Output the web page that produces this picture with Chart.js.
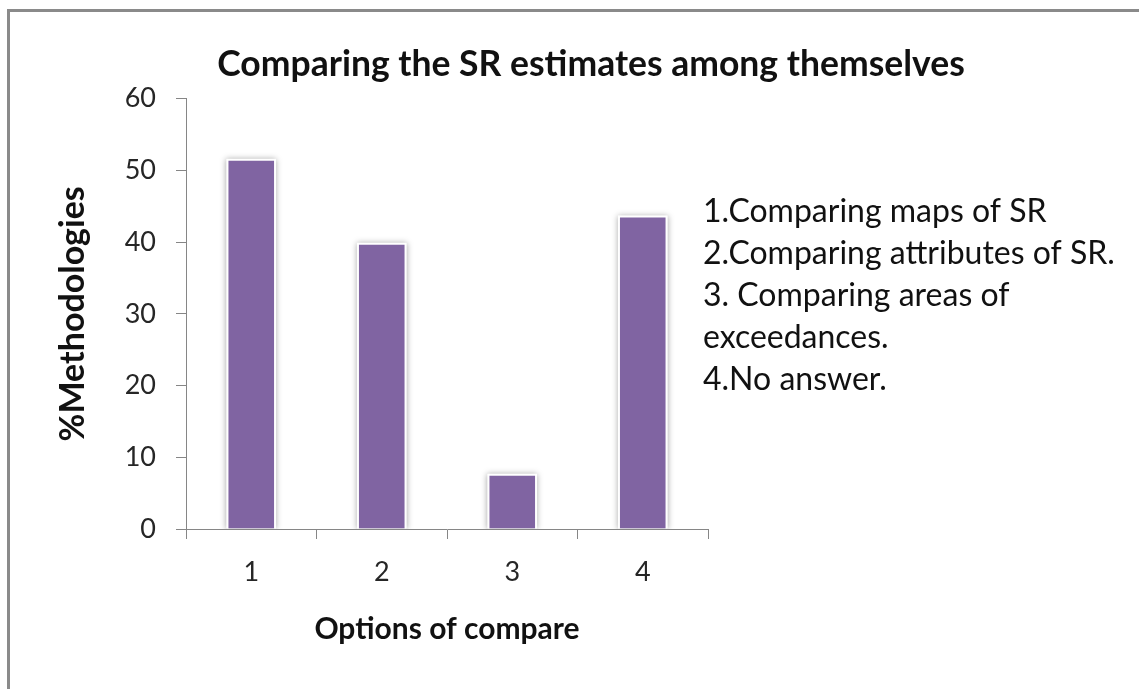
<!DOCTYPE html>
<html>
<head>
<meta charset="utf-8">
<title>Comparing the SR estimates among themselves</title>
<script src="https://cdn.jsdelivr.net/npm/chart.js@4.4.1/dist/chart.umd.min.js"></script>
<style>
  html, body { margin: 0; padding: 0; background: #fff; }
  #wrap { position: relative; width: 1139px; height: 689px; overflow: hidden; }
  #frame {
    position: absolute; left: 7px; top: 9px; width: 1300px; height: 900px;
    border-left: 3px solid #8a8a8a; border-top: 3px solid #8a8a8a;
    pointer-events: none;
  }
  canvas { position: absolute; left: 0; top: 0; }
</style>
</head>
<body>
<div id="wrap">
  <canvas id="srChart" width="1139" height="689"></canvas>
  <div id="frame"></div>
</div>
<script>
// data
const categories = ['1', '2', '3', '4'];
const percentMethodologies = [51.6, 39.9, 7.7, 43.7];
const yTicks = [0, 10, 20, 30, 40, 50, 60];
const noteLines = [
  '1.Comparing maps of SR',
  '2.Comparing attributes of SR.',
  '3. Comparing areas of',
  'exceedances.',
  '4.No answer.'
];

const barColor = '#8064a2';
const axisGray = '#868686';
const textDark = '#111111';

Chart.defaults.font.family = 'Lato';

// soft grey shadow behind the bars (Excel style)
const barShadow = {
  id: 'barShadow',
  beforeDatasetsDraw(chart) {
    const ctx = chart.ctx;
    const area = chart.chartArea;
    const meta = chart.getDatasetMeta(0);
    ctx.save();
    ctx.beginPath();
    ctx.rect(area.left, area.top - 20, area.right - area.left, area.bottom - area.top + 20);
    ctx.clip();
    ctx.shadowColor = 'rgba(0,0,0,0.35)';
    ctx.shadowBlur = 6;
    ctx.fillStyle = '#ffffff';
    meta.data.forEach(bar => {
      const p = bar.getProps(['x', 'y', 'base', 'width'], true);
      ctx.fillRect(p.x - p.width / 2, p.y, p.width, p.base - p.y);
    });
    ctx.restore();
  }
};

// the text block to the right of the plot
const sideNotes = {
  id: 'sideNotes',
  afterDraw(chart) {
    const ctx = chart.ctx;
    ctx.save();
    ctx.font = '32px Lato';
    ctx.fillStyle = textDark;
    ctx.textAlign = 'left';
    ctx.textBaseline = 'alphabetic';
    noteLines.forEach((line, i) => ctx.fillText(line, 703, 222 + i * 42));
    ctx.restore();
  }
};

const ctx = document.getElementById('srChart').getContext('2d');
new Chart(ctx, {
  type: 'bar',
  data: {
    labels: categories,
    datasets: [{
      label: '%Methodologies',
      data: percentMethodologies,
      backgroundColor: barColor,
      borderColor: '#ffffff',
      borderWidth: 2,
      barPercentage: 0.38,
      categoryPercentage: 1
    }]
  },
  options: {
    responsive: false,
    animation: false,
    layout: { padding: { left: 43, right: 0, top: 0, bottom: 0 } },
    plugins: {
      legend: { display: false },
      tooltip: { enabled: false },
      title: {
        display: true,
        text: 'Comparing the SR estimates among themselves',
        font: { size: 35.5, weight: 'bold' },
        color: textDark,
        padding: { top: 43, bottom: 13 }
      }
    },
    scales: {
      x: {
        grid: {
          display: true, drawOnChartArea: false, drawTicks: true,
          tickLength: 10, color: axisGray, offset: true
        },
        border: { display: true, color: axisGray, width: 1 },
        ticks: { font: { size: 27 }, color: '#262626', padding: 17 },
        title: {
          display: true,
          text: 'Options of compare',
          font: { size: 30, weight: 'bold' },
          color: textDark,
          padding: { top: 0, bottom: 42 }
        },
        afterFit(scale) { scale.height = 160; }
      },
      y: {
        min: yTicks[0],
        max: yTicks[yTicks.length - 1],
        grid: {
          display: true, drawOnChartArea: false, drawTicks: true,
          tickLength: 10, color: axisGray
        },
        border: { display: true, color: axisGray, width: 1 },
        ticks: { stepSize: yTicks[1] - yTicks[0], font: { size: 27 }, color: '#262626', padding: 20 },
        title: {
          display: true,
          text: '%Methodologies',
          font: { size: 34, weight: 'bold' },
          color: textDark,
          padding: { top: 10, bottom: 0 }
        },
        afterFit(scale) { scale.width = 143; }
      },
      yRight: {
        position: 'right',
        display: true,
        grid: { display: false },
        border: { display: false },
        ticks: { display: false },
        afterFit(scale) { scale.width = 431; }
      }
    }
  },
  plugins: [barShadow, sideNotes]
});
</script>
</body>
</html>
